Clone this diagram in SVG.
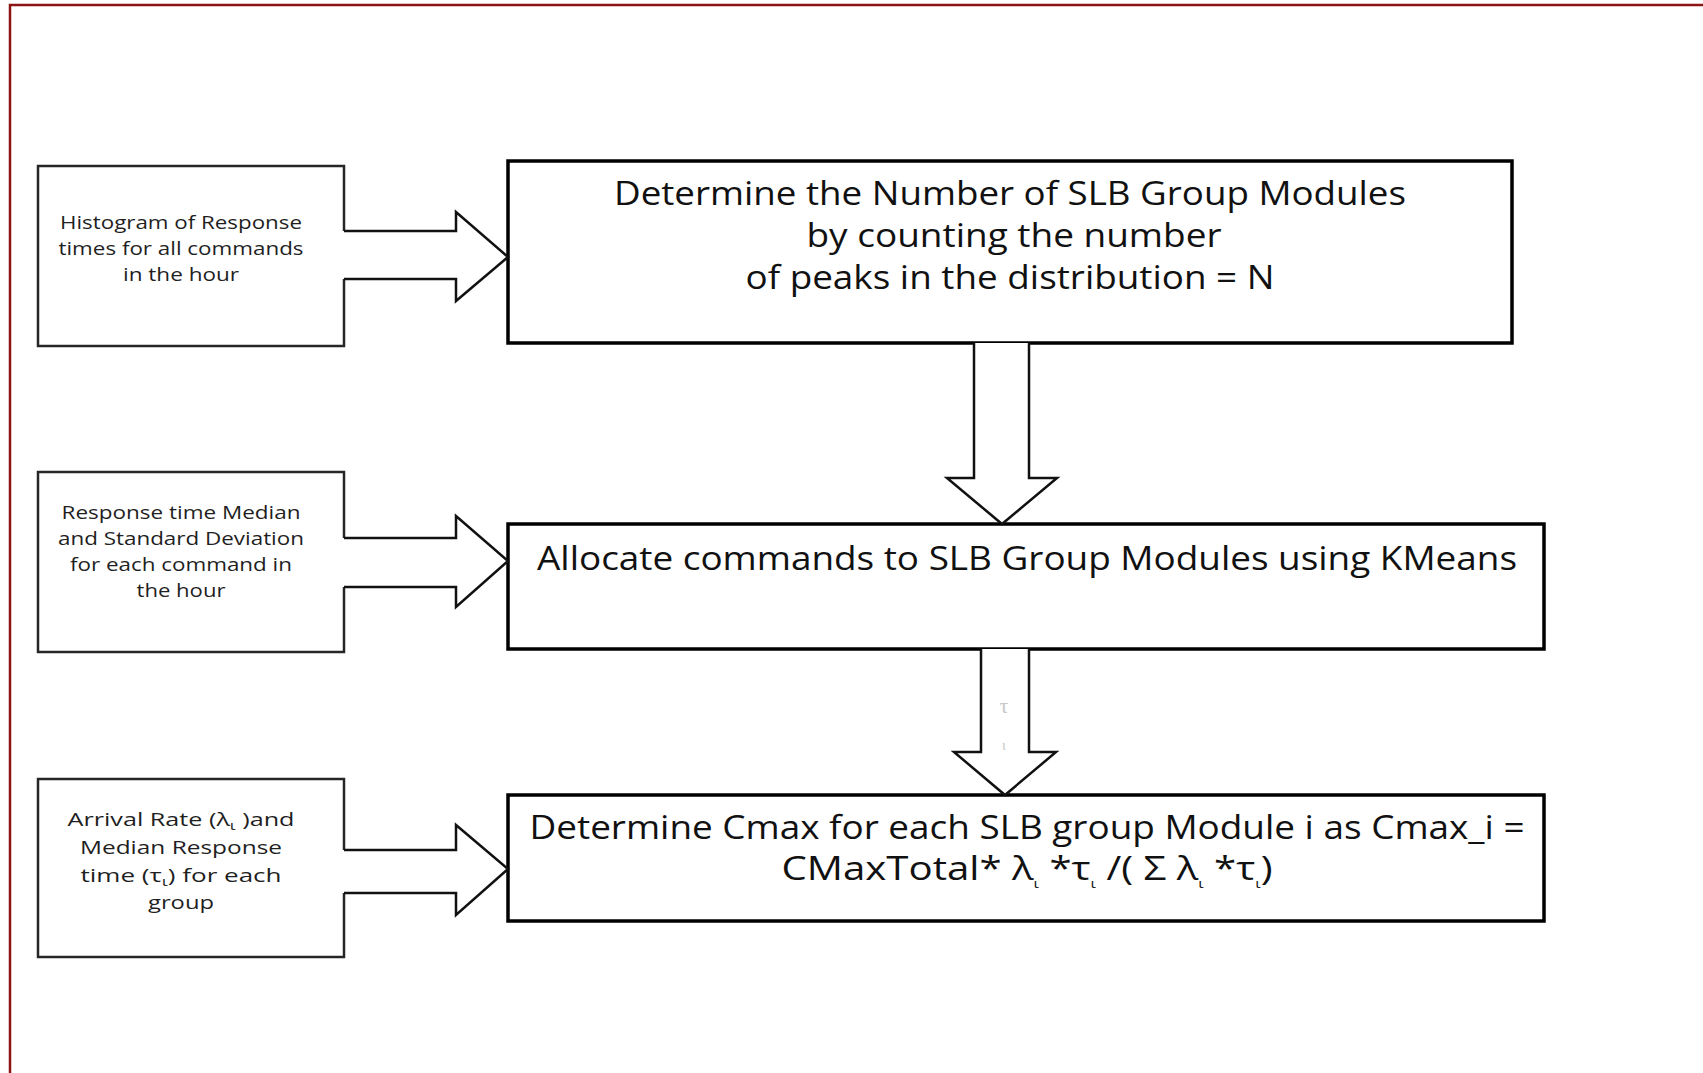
<svg xmlns="http://www.w3.org/2000/svg" width="1703" height="1073" viewBox="0 0 1703 1073">
<style>
.frame{stroke:#8e1414;stroke-width:2.5;fill:none}
.src{fill:#fff;stroke:#262626;stroke-width:2.5}
.main{fill:#fff;stroke:#000;stroke-width:3.5}
.arr{fill:#fff;stroke:#111;stroke-width:2.5;stroke-linejoin:miter}
.arrfill{fill:#fff;stroke:none}
.st{font-family:"Open Sans","DejaVu Sans",sans-serif;font-size:19px;fill:#1f1f1f;text-anchor:middle}
.mt{font-family:"Open Sans","DejaVu Sans",sans-serif;font-size:33px;fill:#111;text-anchor:middle}
.sub{font-size:13px}
.faint{font-family:"Liberation Serif",serif;fill:#c8c8c8;text-anchor:middle}
</style>
<rect width="1703" height="1073" fill="#fff"/>
<path class="frame" d="M10,1073 V5 H1703"/>

<g id="src1">
<rect class="src" x="38" y="166" width="306" height="180"/>
<text class="st" x="181" y="229" textLength="242" lengthAdjust="spacingAndGlyphs">Histogram of Response</text>
<text class="st" x="181" y="255" textLength="245" lengthAdjust="spacingAndGlyphs">times for all commands</text>
<text class="st" x="181" y="281" textLength="116" lengthAdjust="spacingAndGlyphs">in the hour</text>
</g>

<g id="src2">
<rect class="src" x="38" y="472" width="306" height="180"/>
<text class="st" x="181" y="519" textLength="239" lengthAdjust="spacingAndGlyphs">Response time Median</text>
<text class="st" x="181" y="545" textLength="246" lengthAdjust="spacingAndGlyphs">and Standard Deviation</text>
<text class="st" x="181" y="571" textLength="222" lengthAdjust="spacingAndGlyphs">for each command in</text>
<text class="st" x="181" y="597" textLength="89" lengthAdjust="spacingAndGlyphs">the hour</text>
</g>

<g id="src3">
<rect class="src" x="38" y="779" width="306" height="178"/>
<text class="st" x="181" y="826" textLength="227" lengthAdjust="spacingAndGlyphs">Arrival Rate (λ<tspan class="sub" dy="4">ι</tspan><tspan dy="-4"> )and</tspan></text>
<text class="st" x="181" y="854" textLength="202" lengthAdjust="spacingAndGlyphs">Median Response</text>
<text class="st" x="181" y="882" textLength="201" lengthAdjust="spacingAndGlyphs">time (τ<tspan class="sub" dy="4">ι</tspan><tspan dy="-4">)  for each</tspan></text>
<text class="st" x="181" y="909" textLength="66" lengthAdjust="spacingAndGlyphs">group</text>
</g>

<g id="step1">
<rect class="main" x="508" y="161" width="1004" height="182"/>
<text class="mt" x="1010" y="205" textLength="792" lengthAdjust="spacingAndGlyphs">Determine the Number of SLB Group Modules</text>
<text class="mt" x="1014" y="247" textLength="415" lengthAdjust="spacingAndGlyphs">by counting the number</text>
<text class="mt" x="1010" y="289" textLength="529" lengthAdjust="spacingAndGlyphs">of peaks in the distribution = N</text>
</g>

<g id="step2">
<rect class="main" x="508" y="524" width="1036" height="125"/>
<text class="mt" x="1027" y="570" textLength="980" lengthAdjust="spacingAndGlyphs">Allocate commands to SLB Group Modules using KMeans</text>
</g>

<g id="step3">
<rect class="main" x="508" y="795" width="1036" height="126"/>
<text class="mt" x="1027" y="839" textLength="995" lengthAdjust="spacingAndGlyphs">Determine Cmax for each SLB group Module i as Cmax_i =</text>
<text class="mt" x="1027" y="880" textLength="491" lengthAdjust="spacingAndGlyphs">CMaxTotal* λ<tspan class="sub" dy="8">ι</tspan><tspan dy="-8"> *τ</tspan><tspan class="sub" dy="8">ι</tspan><tspan dy="-8"> /( Σ λ</tspan><tspan class="sub" dy="8">ι</tspan><tspan dy="-8"> *τ</tspan><tspan class="sub" dy="8">ι</tspan><tspan dy="-8">)</tspan></text>
</g>

<g id="connectors">
<path class="arrfill" d="M340,231 H456 V212 L508,257 L456,301 V279 H340 Z"/>
<path class="arr" d="M344,231 H456 V212 L508,257 L456,301 V279 H344"/>
<path class="arrfill" d="M340,538 H456 V516 L508,561 L456,607 V587 H340 Z"/>
<path class="arr" d="M344,538 H456 V516 L508,561 L456,607 V587 H344"/>
<path class="arrfill" d="M340,850 H456 V825 L508,869 L456,915 V893 H340 Z"/>
<path class="arr" d="M344,850 H456 V825 L508,869 L456,915 V893 H344"/>
<path class="arr" d="M974,343 V478 H947 L1002,524 L1057,478 H1029 V343"/>
<path class="arr" d="M981,649 V752 H954 L1005,795 L1056,752 H1029 V649"/>
<text class="faint" x="1004" y="713" font-size="22">τ</text>
<text class="faint" x="1004" y="750" font-size="14">ι</text>
</g>
</svg>
